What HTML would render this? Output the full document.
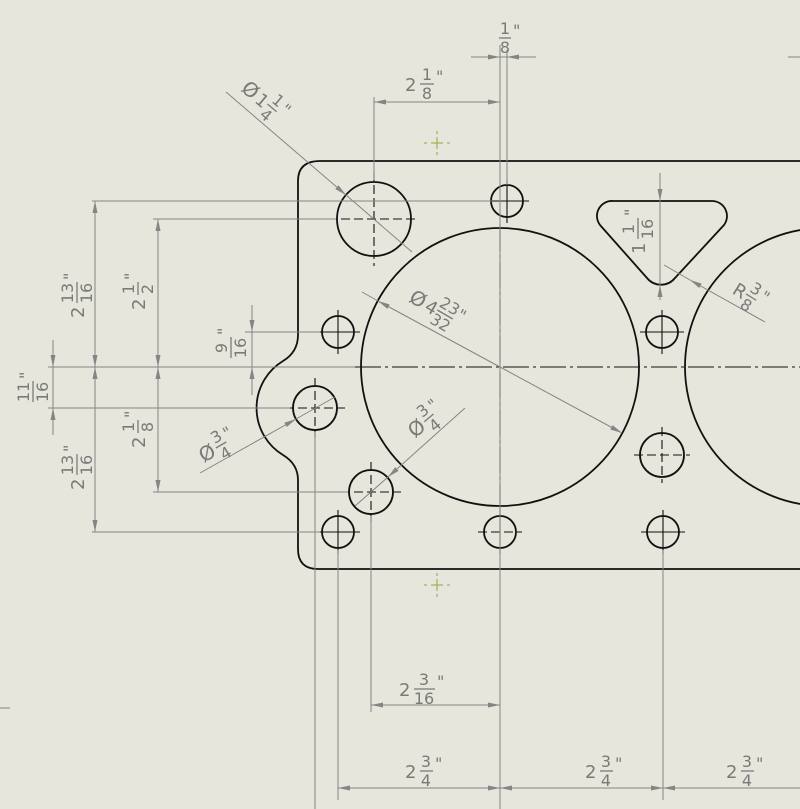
<!DOCTYPE html>
<html><head><meta charset="utf-8"><style>
html,body{margin:0;padding:0;background:#e6e6dc;}
svg{display:block}
.d{stroke:#858585;stroke-width:1;fill:none}
.o{stroke:#111;stroke-width:1.8;fill:none}
.c{stroke:#111;stroke-width:1.1;fill:none}
.cd{stroke:#111;stroke-width:1.1;fill:none;stroke-dasharray:9 4}
.cl{stroke:#111;stroke-width:1.1;fill:none;stroke-dasharray:26 4 3 4}
text{font-family:"DejaVu Sans","Liberation Sans",sans-serif;fill:#7a7a7a;font-size:16px}
.w{font-size:18px}
.p{font-size:20px}
.f line{stroke:#7a7a7a;stroke-width:1.3}
</style></head><body>
<svg width="800" height="809" viewBox="0 0 800 809" xmlns="http://www.w3.org/2000/svg">
<defs>
<marker id="a" viewBox="0 0 12 6" refX="12" refY="3" markerWidth="12" markerHeight="6" markerUnits="userSpaceOnUse" orient="auto-start-reverse"><path d="M0,0.5 L12,3 L0,5.5 Z" fill="#858585"/></marker>
</defs>

<path class="o" d="M320,161 H800 M800,569 H318 Q298,569 298,549 V480 Q298,464 283,455 A55,55 0 0 1 283,361 Q298,352 298,335 V181 Q298,161 320,161"/>

<circle class="o" cx="500" cy="367" r="139"/>
<circle class="o" cx="824" cy="367" r="139"/>
<path class="o" d="M613,201 H712 A15,15 0 0 1 724,225 L675,278 A18,18 0 0 1 647,278 L600,225 A15,15 0 0 1 613,201 Z"/>

<g class="o">
<circle cx="338" cy="332" r="16"/><circle cx="338" cy="532" r="16"/>
<circle cx="507" cy="201" r="16"/><circle cx="500" cy="532" r="16"/>
<circle cx="662" cy="332" r="16"/><circle cx="663" cy="532" r="16"/>
<circle cx="315" cy="408" r="22"/><circle cx="371" cy="492" r="22"/>
<circle cx="662" cy="455" r="22"/><circle cx="374" cy="219" r="37"/>
</g>
<g class="c">
<path d="M316,332h44M338,310v44"/>
<path d="M316,532h44M338,510v44"/>
<path d="M485,201h44M507,179v44"/>
<path d="M640,332h44M662,310v44"/>
<path d="M641,532h44M663,510v44"/>
<path d="M500,510v44"/>
</g>
<g class="cd">
<path d="M478,532h44"/>
<path d="M285,408h60M315,378v60"/>
<path d="M341,492h60M371,462v60"/>
<path d="M634,455h56M662,427v56"/>
<path d="M328,219h90M374,172v94"/>
</g>
<path class="cl" d="M355,367 H800"/>
<path class="cl" d="M500,225 V520"/>

<g class="d">
<path d="M500,45 V809"/>
<path d="M507,50 V185"/>
<path d="M374,97 V180"/>
<path d="M92,201 H492"/>
<path d="M153,219 H336"/>
<path d="M48,367 H355"/>
<path d="M48,408 H290"/>
<path d="M153,492 H348"/>
<path d="M92,532 H320"/>
<path d="M245,332 H320"/>
<path d="M315,432 V809"/>
<path d="M338,550 V800"/>
<path d="M371,516 V712"/>
<path d="M663,550 V800"/>
<path d="M0,708 H10"/>
<path d="M788,57 H800"/>
</g>

<g class="d">
<path d="M471,57 H500" marker-end="url(#a)"/>
<path d="M536,57 H507" marker-end="url(#a)"/>
<path d="M500,57 H507"/>
<path d="M374,102 H500" marker-start="url(#a)" marker-end="url(#a)"/>
<path d="M95,201 V367" marker-start="url(#a)" marker-end="url(#a)"/>
<path d="M95,367 V532" marker-start="url(#a)" marker-end="url(#a)"/>
<path d="M158,219 V367" marker-start="url(#a)" marker-end="url(#a)"/>
<path d="M158,367 V492" marker-start="url(#a)" marker-end="url(#a)"/>
<path d="M53,340 V367" marker-end="url(#a)"/>
<path d="M53,435 V408" marker-end="url(#a)"/>
<path d="M53,367 V408"/>
<path d="M252,305 V332" marker-end="url(#a)"/>
<path d="M252,395 V367" marker-end="url(#a)"/>
<path d="M252,332 V367"/>
<path d="M660,173 V201" marker-end="url(#a)"/>
<path d="M660,300 V285" marker-end="url(#a)"/>
<path d="M660,201 V285"/>
<path d="M371,705 H500" marker-start="url(#a)" marker-end="url(#a)"/>
<path d="M338,788 H500" marker-start="url(#a)" marker-end="url(#a)"/>
<path d="M500,788 H663" marker-start="url(#a)" marker-end="url(#a)"/>
<path d="M663,788 H800" marker-start="url(#a)"/>
<path d="M226,92 L346,195" marker-end="url(#a)"/>
<path d="M346,195 L412,252"/>
<path d="M200,473 L296,419" marker-end="url(#a)"/>
<path d="M296,419 L335,397"/>
<path d="M465,408 L388,477" marker-end="url(#a)"/>
<path d="M388,477 L355,506"/>
<path d="M500,367 L622,433" marker-end="url(#a)"/>
<path d="M500,367 L378,301" marker-end="url(#a)"/>
<path d="M378,301 L362,292"/>
<path d="M765,322 L690,280" marker-end="url(#a)"/>
<path d="M690,280 L664,265"/>
</g>

<g stroke="#a0a040" stroke-width="1" fill="none">
<path d="M431,143h12M437,137v12"/><path d="M424,143h3M447,143h3M437,131v3M437,152v3" />
<path d="M431,585h12M437,579v12"/><path d="M424,585h3M447,585h3M437,573v3M437,594v3"/>
</g>

<g class="f" transform="translate(498,38)"><text x="7" y="-4" text-anchor="middle">1</text><line x1="1" x2="13" y1="0" y2="0"/><text x="7" y="15" text-anchor="middle">8</text><text x="15" y="-2">"</text></g>

<g class="f" transform="translate(405,84)"><text class="w" x="0" y="7">2</text><text x="22" y="-4" text-anchor="middle">1</text><line x1="15" x2="29" y1="0" y2="0"/><text x="22" y="15" text-anchor="middle">8</text><text x="31" y="-2">"</text></g>

<g class="f" transform="translate(399,689)"><text class="w" x="0" y="7">2</text><text x="25" y="-4" text-anchor="middle">3</text><line x1="15" x2="36" y1="0" y2="0"/><text x="25" y="15" text-anchor="middle">16</text><text x="38" y="-2">"</text></g>

<g class="f" transform="translate(405,771)"><text class="w" x="0" y="7">2</text><text x="21" y="-4" text-anchor="middle">3</text><line x1="15" x2="28" y1="0" y2="0"/><text x="21" y="15" text-anchor="middle">4</text><text x="30" y="-2">"</text></g>
<g class="f" transform="translate(585,771)"><text class="w" x="0" y="7">2</text><text x="21" y="-4" text-anchor="middle">3</text><line x1="15" x2="28" y1="0" y2="0"/><text x="21" y="15" text-anchor="middle">4</text><text x="30" y="-2">"</text></g>
<g class="f" transform="translate(726,771)"><text class="w" x="0" y="7">2</text><text x="21" y="-4" text-anchor="middle">3</text><line x1="15" x2="28" y1="0" y2="0"/><text x="21" y="15" text-anchor="middle">4</text><text x="30" y="-2">"</text></g>

<g class="f" transform="translate(77,318) rotate(-90)"><text class="w" x="0" y="7">2</text><text x="25" y="-4" text-anchor="middle">13</text><line x1="15" x2="36" y1="0" y2="0"/><text x="25" y="15" text-anchor="middle">16</text><text x="38" y="-2">"</text></g>
<g class="f" transform="translate(77,490) rotate(-90)"><text class="w" x="0" y="7">2</text><text x="25" y="-4" text-anchor="middle">13</text><line x1="15" x2="36" y1="0" y2="0"/><text x="25" y="15" text-anchor="middle">16</text><text x="38" y="-2">"</text></g>
<g class="f" transform="translate(138,310) rotate(-90)"><text class="w" x="0" y="7">2</text><text x="21" y="-4" text-anchor="middle">1</text><line x1="15" x2="28" y1="0" y2="0"/><text x="21" y="15" text-anchor="middle">2</text><text x="30" y="-2">"</text></g>
<g class="f" transform="translate(138,448) rotate(-90)"><text class="w" x="0" y="7">2</text><text x="21" y="-4" text-anchor="middle">1</text><line x1="15" x2="28" y1="0" y2="0"/><text x="21" y="15" text-anchor="middle">8</text><text x="30" y="-2">"</text></g>
<g class="f" transform="translate(33,402) rotate(-90)"><text x="10" y="-4" text-anchor="middle">11</text><line x1="0" x2="21" y1="0" y2="0"/><text x="10" y="15" text-anchor="middle">16</text><text x="23" y="-2">"</text></g>
<g class="f" transform="translate(231,358) rotate(-90)"><text x="10" y="-4" text-anchor="middle">9</text><line x1="0" x2="21" y1="0" y2="0"/><text x="10" y="15" text-anchor="middle">16</text><text x="23" y="-2">"</text></g>
<g class="f" transform="translate(638,254) rotate(-90)"><text class="w" x="0" y="7">1</text><text x="25" y="-4" text-anchor="middle">1</text><line x1="15" x2="36" y1="0" y2="0"/><text x="25" y="15" text-anchor="middle">16</text><text x="38" y="-2">"</text></g>

<g class="f" transform="translate(246,86) rotate(40)"><text class="p" x="-2" y="7">Ø</text><text class="w" x="16" y="7">1</text><text x="34" y="-4" text-anchor="middle">1</text><line x1="28" x2="40" y1="0" y2="0"/><text x="34" y="15" text-anchor="middle">4</text><text x="42" y="-2">"</text></g>
<g class="f" transform="translate(413,296) rotate(30)"><text class="p" x="-2" y="7">Ø</text><text class="w" x="16" y="7">4</text><text x="37" y="-4" text-anchor="middle">23</text><line x1="28" x2="46" y1="0" y2="0"/><text x="37" y="15" text-anchor="middle">32</text><text x="48" y="-2">"</text></g>
<g class="f" transform="translate(202,456) rotate(-30)"><text class="p" x="-2" y="7">Ø</text><text x="22" y="-4" text-anchor="middle">3</text><line x1="16" x2="28" y1="0" y2="0"/><text x="22" y="15" text-anchor="middle">4</text><text x="30" y="-2">"</text></g>
<g class="f" transform="translate(412,432) rotate(-40)"><text class="p" x="-2" y="7">Ø</text><text x="22" y="-4" text-anchor="middle">3</text><line x1="16" x2="28" y1="0" y2="0"/><text x="22" y="15" text-anchor="middle">4</text><text x="30" y="-2">"</text></g>
<g class="f" transform="translate(735,287) rotate(32)"><text class="w" x="0" y="7">R</text><text x="19" y="-4" text-anchor="middle">3</text><line x1="13" x2="25" y1="0" y2="0"/><text x="19" y="15" text-anchor="middle">8</text><text x="27" y="-2">"</text></g>
</svg>
</body></html>
